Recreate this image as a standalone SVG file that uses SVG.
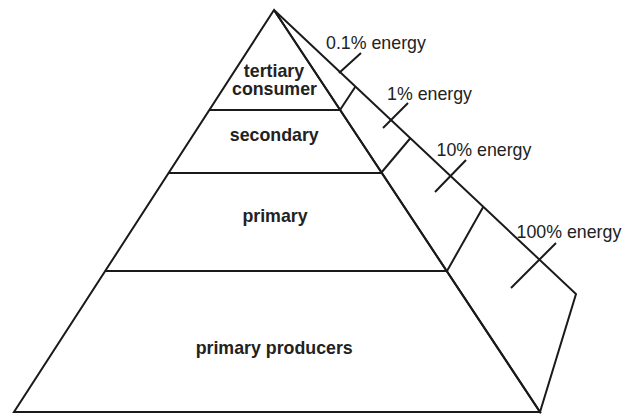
<svg xmlns="http://www.w3.org/2000/svg" width="631" height="414" viewBox="0 0 631 414">
<style>
.ln{stroke:#1a1a1a;stroke-width:2;fill:none;stroke-linejoin:miter;stroke-linecap:butt}
.lv{font-family:"Liberation Sans",Arial,sans-serif;font-weight:bold;font-size:17.8px;fill:#222;text-anchor:middle}
.en{font-family:"Liberation Sans",Arial,sans-serif;font-size:17.8px;fill:#222}
</style>
<rect width="631" height="414" fill="#fff"/>
<g id="pyramid">
<polygon class="ln" points="274,10 14,412 540,412"/>
<polygon class="ln" points="274,10 576,294 540,412"/>
</g>
<g id="level-tertiary">
<line class="ln" x1="209" y1="110" x2="340" y2="110"/>
<text class="lv" x="274" y="76.5">tertiary</text>
<text class="lv" x="274.5" y="95">consumer</text>
</g>
<g id="level-secondary">
<line class="ln" x1="168" y1="173" x2="381" y2="173"/>
<text class="lv" x="274.3" y="140.7">secondary</text>
</g>
<g id="level-primary">
<line class="ln" x1="105" y1="271" x2="447" y2="271"/>
<text class="lv" x="275" y="221.7">primary</text>
</g>
<g id="level-producers">
<text class="lv" x="274.2" y="354.3">primary producers</text>
</g>
<g id="connectors">
<line class="ln" x1="340" y1="110" x2="355.5" y2="86.5"/>
<line class="ln" x1="381" y1="173" x2="410.5" y2="138"/>
<line class="ln" x1="447" y1="271" x2="483.3" y2="206.8"/>
<line class="ln" x1="339" y1="73" x2="361" y2="53"/>
<line class="ln" x1="383" y1="128" x2="408" y2="103"/>
<line class="ln" x1="435" y1="192" x2="466" y2="160"/>
<line class="ln" x1="511" y1="288" x2="556" y2="243"/>
</g>
<g id="labels">
<text class="en" x="326" y="49.3">0.1% energy</text>
<text class="en" x="387" y="100">1% energy</text>
<text class="en" x="436.5" y="156">10% energy</text>
<text class="en" x="516.5" y="238">100% energy</text>
</g>
</svg>
